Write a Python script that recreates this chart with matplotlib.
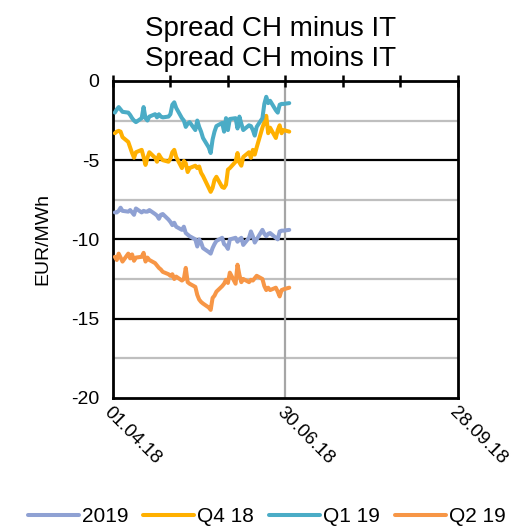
import numpy as np
import pandas as pd
import matplotlib
matplotlib.use("Agg")
import matplotlib.pyplot as plt
import matplotlib.dates as mdates
from matplotlib.ticker import FixedLocator, FuncFormatter, MultipleLocator

plt.rcParams["font.family"] = ["Liberation Sans", "DejaVu Sans"]
plt.rcParams["axes.unicode_minus"] = False

# business days covered by the series
dates = pd.bdate_range("2018-04-02", "2018-07-02")

s_2019 = [-8.3, -8.3, -8.2, -8.0, -8.2, -8.25, -8.15, -8.3, -8.45, -8.05,
          -8.3, -8.2, -8.25, -8.25, -8.15, -8.4, -8.5, -8.7, -8.45, -8.4,
          -8.75, -8.9, -9.1, -8.95, -9.2, -9.4, -9.2, -9.6, -9.7, -9.8,
          -10.0, -10.45, -10.0, -10.2, -10.55, -10.8, -10.9, -10.55, -10.3, -10.1,
          -9.9, -10.3, -10.4, -10.6, -10.0, -9.9, -10.15, -10.0, -9.9, -10.35,
          -9.9, -9.5, -9.8, -10.2, -10.0, -9.4, -9.65, -9.8, -9.65, -9.6,
          -9.9, -10.0, -9.5, -9.45, -9.45, -9.4]
s_q418 = [-3.3, -3.2, -3.15, -3.2, -3.55, -3.85, -4.2, -4.55, -4.85, -4.5,
          -4.35, -4.8, -5.3, -4.85, -4.5, -4.85, -5.1, -4.65, -4.85, -5.0,
          -5.1, -4.9, -4.5, -4.35, -4.8, -5.5, -5.05, -5.2, -5.75, -5.5,
          -5.35, -5.5, -5.4, -5.8, -6.0, -6.75, -7.0, -6.75, -6.25, -6.05,
          -6.7, -6.75, -6.55, -5.6, -5.5, -5.1, -4.55, -5.15, -5.35, -4.8,
          -4.5, -4.85, -4.35, -4.65, -4.2, -2.95, -2.6, -2.2, -3.3, -2.95,
          -3.6, -3.1, -2.8, -3.3, -3.1, -3.2]
s_q119 = [-2.0, -1.8, -1.65, -1.8, -1.95, -2.0, -2.15, -2.35, -2.5, -2.6,
          -2.35, -1.65, -2.35, -2.5, -2.25, -2.1, -2.3, -2.1, -2.25, -2.3,
          -2.25, -2.1, -1.5, -1.35, -1.7, -2.35, -2.5, -2.9, -2.7, -2.6,
          -3.1, -2.5, -2.9, -3.2, -3.6, -4.2, -4.55, -3.7, -3.2, -2.85,
          -2.65, -3.2, -2.35, -3.1, -2.4, -2.35, -3.0, -2.25, -2.7, -3.1,
          -2.8, -2.85, -3.1, -3.45, -2.9, -2.35, -1.45, -1.0, -1.4, -1.25,
          -1.85, -2.0, -1.5, -1.45, -1.45, -1.4]
s_q219 = [-11.1, -11.3, -10.9, -11.15, -11.4, -10.9, -11.2, -10.95, -11.35, -11.15,
          -11.1, -10.85, -11.4, -11.15, -11.3, -11.5, -11.65, -11.8, -11.9, -12.05,
          -12.2, -12.3, -12.2, -12.5, -12.35, -12.6, -12.5, -11.8, -12.7, -12.8,
          -13.0, -13.5, -13.8, -13.95, -14.05, -14.3, -14.45, -13.7, -13.55, -13.3,
          -12.95, -12.8, -12.55, -12.75, -12.1, -12.8, -11.6, -12.25, -12.7, -12.5,
          -12.7, -12.55, -12.6, -12.45, -12.3, -12.5, -12.95, -13.2, -13.05, -13.2,
          -13.05, -13.3, -13.6, -13.2, -13.15, -13.05]

series = ["2019", "Q4 18", "Q1 19", "Q2 19"]
colors = ["#8FA1D3", "#FFB000", "#4BACC6", "#F79646"]

x_start = pd.Timestamp("2018-04-01")
x_end = pd.Timestamp("2018-09-28")
tick_dates = pd.date_range(x_start, x_end, freq="30D")
label_dates = [pd.Timestamp("2018-04-01"), pd.Timestamp("2018-06-30"), pd.Timestamp("2018-09-28")]
marker_date = pd.Timestamp("2018-06-30")

fig = plt.figure(figsize=(5.18, 5.29), dpi=100)
ax = fig.add_axes([0.218, 0.248, 0.666, 0.599])

# grid lines
for v in [-17.5, -12.5, -7.5, -2.5]:
    ax.axhline(v, color="#BFBFBF", lw=1.6, zorder=1)
for v in [-15, -10, -5]:
    ax.axhline(v, color="black", lw=1.6, zorder=1)
ax.axvline(marker_date, color="#A6A6A6", lw=1.6, zorder=1)

for name, vals, c in zip(series, [s_2019, s_q418, s_q119, s_q219], colors):
    ax.plot(dates, vals, color=c, lw=2.9, label=name, zorder=3,
            solid_joinstyle="round", solid_capstyle="round")

ax.set_xlim(x_start, x_end)
ax.set_ylim(-20, 0)
ax.yaxis.set_major_locator(MultipleLocator(5))
ax.tick_params(axis="y", length=0, labelsize=14, pad=10)

ax.xaxis.set_major_locator(FixedLocator(mdates.date2num(tick_dates)))
lbl_nums = set(np.round(mdates.date2num(label_dates), 3))
ax.xaxis.set_major_formatter(FuncFormatter(
    lambda v, p: mdates.num2date(v).strftime("%d.%m.%y") if round(v, 3) in lbl_nums else ""))
ax.tick_params(axis="x", top=True, bottom=False, labeltop=False, labelbottom=True,
               direction="inout", length=9, width=1.8, labelsize=13.5, pad=0)
for t in ax.get_xticklabels():
    t.set_rotation(-45)
    t.set_ha("left")
    t.set_va("top")
    t.set_rotation_mode("anchor")

for sp in ax.spines.values():
    sp.set_color("black")
    sp.set_linewidth(2)

ax.set_ylabel("EUR/MWh", fontsize=14, labelpad=14)
ax.set_title("Spread CH minus IT\nSpread CH moins IT", fontsize=20, pad=11,
             linespacing=1.2, x=0.458)

fig.legend(loc="lower center", ncol=4, frameon=False, fontsize=15,
           bbox_to_anchor=(0.515, -0.03), handlelength=2.45, handletextpad=0.15,
           columnspacing=0.7)

fig.savefig("out.png", dpi=100)
